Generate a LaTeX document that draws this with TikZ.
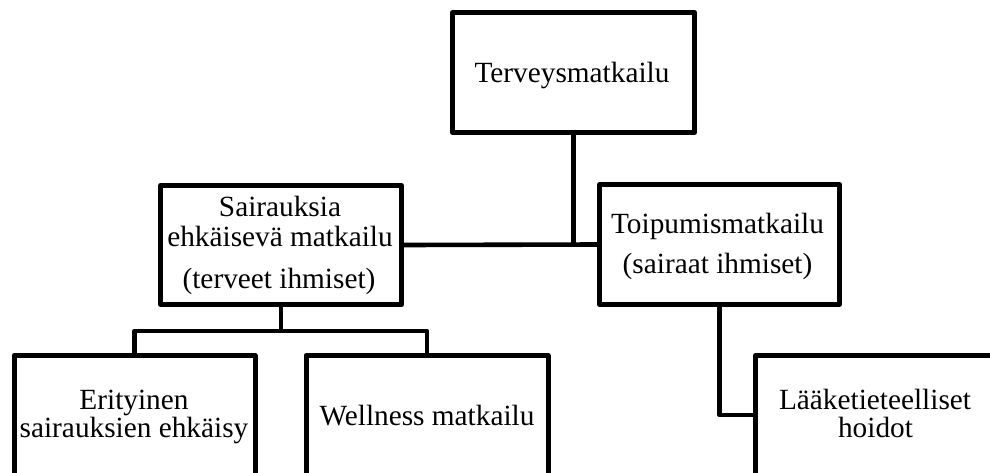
\documentclass[tikz,border=0pt]{standalone}
\usepackage{fontspec}
\setmainfont{Liberation Serif}
\begin{document}
\begin{tikzpicture}[x=1pt,y=-1pt,
  box/.style={draw=black,line width=5pt,line join=round,rectangle,inner sep=0pt,
              minimum width=#1},
  box/.default=241pt,
  link/.style={draw=black,line width=4.6pt,line join=round},
  txt/.style={anchor=base,inner sep=0pt,font=\fontsize{29.3}{35}\selectfont}]
\useasboundingbox (0,0) rectangle (990,472);
\clip (0,0) rectangle (990,472);

% boxes
\node[box=242pt,minimum height=120pt] (top)  at (573.5,72.5)  {};
\node[box=241pt,minimum height=119pt] (sair) at (281,245)     {};
\node[box=240pt,minimum height=120pt] (toip) at (719.5,244.5) {};
\node[box=241pt,minimum height=125pt] (erit) at (134.5,418)   {};
\node[box=242pt,minimum height=125pt] (well) at (427,418)     {};
\node[box=245pt,minimum height=125pt] (laak) at (878,418)     {};

% junction points of the connectors
\coordinate (j1) at (top.south |- sair.east);
\coordinate (j2) at (sair.south |- 0,331);
\coordinate (j3) at (toip.south |- 0,415);

% connectors
\draw[link] (top.south) -- (j1);
\draw[link] (sair.east) -- (toip.west);
\draw[link] (sair.south) -- (j2);
\draw[link] (erit.north) |- (j2) -| (well.north);
\draw[link] (toip.south) |- (laak.west |- j3);

% labels
\node[txt] (t1)  at (572,82)    {Terveysmatkailu};
\node[txt] (s1)  at (280,216.7) {Sairauksia};
\node[txt] (s2)  at (280,246.7) {ehkäisevä matkailu};
\node[txt] (s3)  at (279,288.3) {(terveet ihmiset)};
\node[txt] (p1)  at (717.5,233.3) {Toipumismatkailu};
\node[txt] (p2)  at (717.5,273.3) {(sairaat ihmiset)};
\node[txt] (e1)  at (134,409)   {Erityinen};
\node[txt] (e2)  at (134,437)   {sairauksien ehkäisy};
\node[txt] (w1)  at (427,425)   {Wellness matkailu};
\node[txt] (l1)  at (875,409)   {Lääketieteelliset};
\node[txt] (l2)  at (875.5,437) {hoidot};
\end{tikzpicture}
\end{document}
